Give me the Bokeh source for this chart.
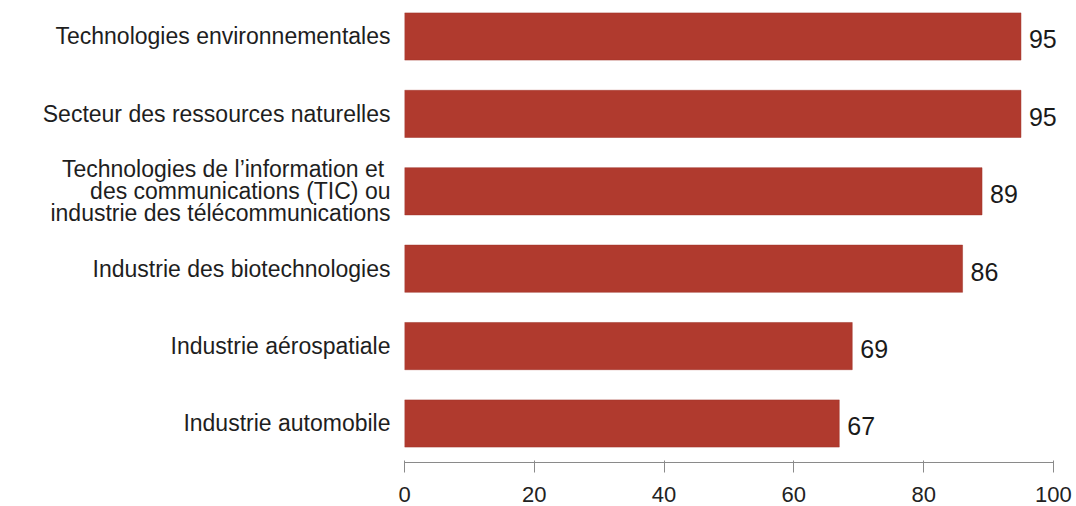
from bokeh.plotting import figure
from bokeh.models import ColumnDataSource, LabelSet, FixedTicker
from bokeh.core.properties import value
from bokeh.embed import file_html
from bokeh.resources import INLINE

categories = [
    "Technologies environnementales",
    "Secteur des ressources naturelles",
    "Technologies de l\u2019information  et\ndes communications (TIC) ou\nindustrie des t\u00e9l\u00e9communications",
    "Industrie des biotechnologies",
    "Industrie a\u00e9rospatiale",
    "Industrie automobile",
]
values = [95, 95, 89, 86, 69, 67]
x_ticks = [0, 20, 40, 60, 80, 100]

n = len(categories)
positions = [n - 1 - i for i in range(n)]

src = ColumnDataSource(dict(
    y=positions,
    v=values,
    lbl=[str(v) for v in values],
))

p = figure(
    frame_width=670, frame_height=462,
    x_range=(0, 103.25), y_range=(-0.504, 5.465),
    output_backend="svg", toolbar_location=None,
    min_border_left=404, min_border_right=2, min_border_top=0, min_border_bottom=44,
    background_fill_color="white", border_fill_color="white",
)
p.outline_line_color = None
p.xgrid.grid_line_color = None
p.ygrid.grid_line_color = None

p.hbar(y="y", right="v", left=0, height=0.61, source=src,
       fill_color="#B03A2E", line_color="#9E3328", line_width=0.5)

labels = LabelSet(x="v", y="y", text="lbl", source=src, x_offset=8, y_offset=-3,
                  text_baseline="middle", text_align="left",
                  text_font_size="25px", text_color="#1a1a1a",
                  text_font=value("Liberation Sans"))
p.add_layout(labels)

xa = p.xaxis[0]
xa.ticker = FixedTicker(ticks=x_ticks)
xa.bounds = (0, 100)
xa.minor_tick_line_color = None
xa.axis_line_color = "#8a8a8a"
xa.major_tick_line_color = "#8a8a8a"
xa.major_tick_out = 10
xa.major_tick_in = 2
xa.major_label_standoff = 14
xa.major_label_text_font = "Liberation Sans"
xa.major_label_text_font_size = "22px"
xa.major_label_text_color = "#222222"

ya = p.yaxis[0]
ya.ticker = FixedTicker(ticks=positions)
ya.major_label_overrides = {pos: cat for pos, cat in zip(positions, categories)}
ya.axis_line_color = None
ya.major_tick_line_color = None
ya.minor_tick_line_color = None
ya.major_label_standoff = 8
ya.major_label_text_font = "Liberation Sans"
ya.major_label_text_font_size = "23px"
ya.major_label_text_color = "#1e1e1e"
ya.major_label_text_line_height = 0.84

open("out.html", "w").write(file_html(p, INLINE))
